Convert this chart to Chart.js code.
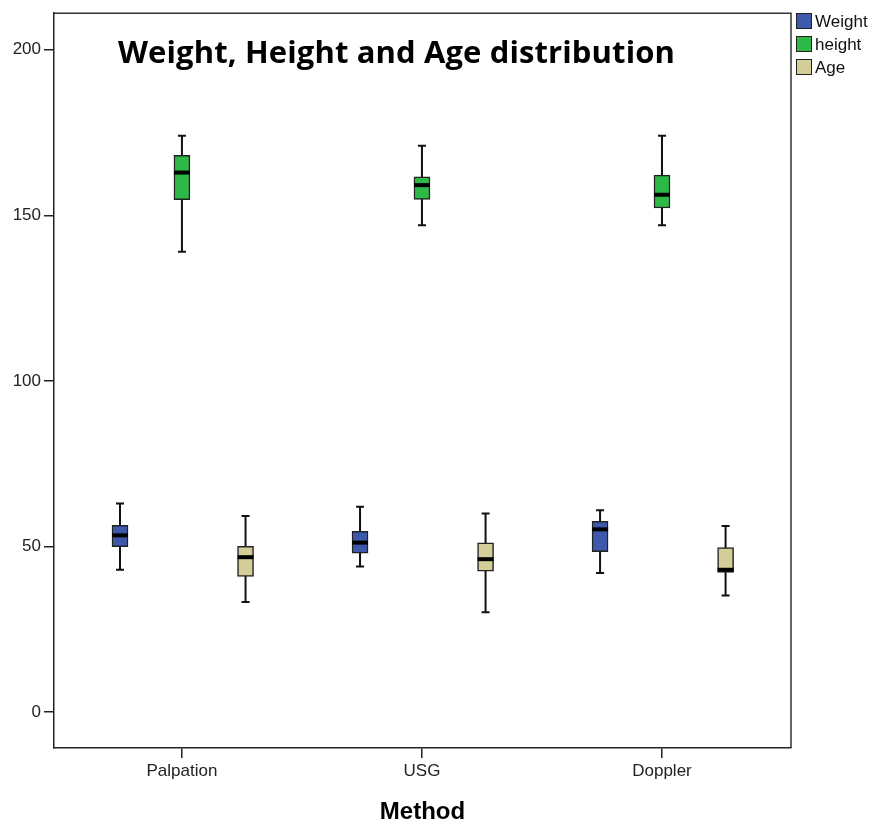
<!DOCTYPE html>
<html>
<head>
<meta charset="utf-8">
<title>Weight, Height and Age distribution</title>
<script src="https://cdn.jsdelivr.net/npm/chart.js@4"></script>
<style>
  html, body { margin: 0; padding: 0; background: #ffffff; }
  #wrap { width: 875px; height: 824px; }
</style>
</head>
<body>
<div id="wrap"><canvas id="boxChart" width="875" height="824"></canvas></div>
<script>
// Categories on the x axis and the y tick values
const methods = ['Palpation', 'USG', 'Doppler'];
const yTicks = [0, 50, 100, 150, 200];

// Five-number summaries per method: [min, q1, median, q3, max]
const weightBoxes = [
    [43, 50, 53.4, 56.4, 63],
    [44, 48, 51.2, 54.6, 62],
    [42, 48.5, 55.2, 57.6, 61]
];
const heightBoxes = [
    [139, 154.7, 162.9, 168.1, 174],
    [147, 154.8, 159.1, 161.6, 171],
    [147, 152.2, 156.2, 162.1, 174]
];
const ageBoxes = [
    [33.3, 41, 46.8, 50.1, 59.2],
    [30.2, 42.6, 46.2, 51.1, 60],
    [35.2, 42.2, 43, 49.7, 56.2]
];

const seriesNames = ['Weight', 'height', 'Age'];
const seriesColors = ['#3E58AC', '#2EB848', '#D3CE97'];
const seriesBoxes = [weightBoxes, heightBoxes, ageBoxes];
const groupOffsets = [-0.258, 0, 0.265];
const chartTitle = 'Weight, Height and Age distribution';

// Whiskers go behind the boxes, medians on top of them
const boxPlotPlugin = {
    id: 'boxPlot',
    beforeDatasetsDraw(chart) {
        const ctx = chart.ctx;
        const y = chart.scales.y;
        ctx.save();
        ctx.strokeStyle = '#111';
        ctx.lineWidth = 2;
        chart.data.datasets.forEach((ds, di) => {
            const meta = chart.getDatasetMeta(di);
            meta.data.forEach((bar, i) => {
                const b = seriesBoxes[di][i];
                const yMin = y.getPixelForValue(b[0]);
                const yMax = y.getPixelForValue(b[4]);
                ctx.beginPath();
                ctx.moveTo(bar.x, yMin);
                ctx.lineTo(bar.x, yMax);
                ctx.moveTo(bar.x - 4, yMin);
                ctx.lineTo(bar.x + 4, yMin);
                ctx.moveTo(bar.x - 4, yMax);
                ctx.lineTo(bar.x + 4, yMax);
                ctx.stroke();
            });
        });
        ctx.restore();
    },
    afterDatasetsDraw(chart) {
        const ctx = chart.ctx;
        const y = chart.scales.y;
        ctx.save();
        ctx.strokeStyle = '#000';
        ctx.lineWidth = 4;
        chart.data.datasets.forEach((ds, di) => {
            const meta = chart.getDatasetMeta(di);
            meta.data.forEach((bar, i) => {
                const med = y.getPixelForValue(seriesBoxes[di][i][2]);
                const half = bar.width / 2;
                ctx.beginPath();
                ctx.moveTo(bar.x - half, med);
                ctx.lineTo(bar.x + half, med);
                ctx.stroke();
            });
        });
        ctx.restore();
    }
};

// Frame, title inside the plot and the legend on the right
const decorPlugin = {
    id: 'decor',
    afterDraw(chart) {
        const ctx = chart.ctx;
        const a = chart.chartArea;
        ctx.save();
        ctx.strokeStyle = '#333';
        ctx.lineWidth = 1.5;
        ctx.beginPath();
        ctx.moveTo(a.left, a.top);
        ctx.lineTo(a.right, a.top);
        ctx.lineTo(a.right, a.bottom);
        ctx.stroke();

        // title is stretched to span x 118..675
        ctx.fillStyle = '#000';
        ctx.font = 'bold 31px "Open Sans", Lato, sans-serif';
        ctx.textBaseline = 'alphabetic';
        ctx.textAlign = 'left';
        const w = ctx.measureText(chartTitle).width;
        ctx.letterSpacing = ((557 - w) / (chartTitle.length - 1)).toFixed(2) + 'px';
        ctx.fillText(chartTitle, 118, 63);
        ctx.letterSpacing = '0px';

        ctx.font = '17px "Liberation Sans", Arial, sans-serif';
        ctx.textBaseline = 'middle';
        seriesNames.forEach((name, i) => {
            const top = 13 + i * 23;
            ctx.fillStyle = seriesColors[i];
            ctx.fillRect(796, top, 16, 16);
            ctx.strokeStyle = '#222';
            ctx.lineWidth = 1;
            ctx.strokeRect(796.5, top + 0.5, 15, 15);
            ctx.fillStyle = '#111';
            ctx.fillText(name, 815, top + 9);
        });
        ctx.restore();
    }
};

const datasets = seriesNames.map((name, si) => ({
    label: name,
    data: seriesBoxes[si].map((b, i) => ({ x: i + groupOffsets[si], y: [b[1], b[3]] })),
    backgroundColor: seriesColors[si],
    borderColor: '#222',
    borderWidth: 1.5,
    borderSkipped: false,
    barThickness: 16,
    grouped: false
}));

new Chart(document.getElementById('boxChart'), {
    type: 'bar',
    data: { datasets: datasets },
    plugins: [boxPlotPlugin, decorPlugin],
    options: {
        responsive: false,
        animation: false,
        layout: { padding: { top: 10, right: 84, left: 0, bottom: 0 } },
        plugins: {
            legend: { display: false },
            tooltip: { enabled: false }
        },
        scales: {
            x: {
                type: 'linear',
                min: -0.533,
                max: 2.5375,
                offset: false,
                afterBuildTicks: (scale) => { scale.ticks = methods.map((m, i) => ({ value: i })); },
                afterFit: (scale) => { scale.height = 76; },
                ticks: {
                    callback: (value) => methods[value],
                    color: '#222',
                    font: { family: '"Liberation Sans", Arial, sans-serif', size: 17 },
                    padding: 3,
                    maxRotation: 0
                },
                grid: { offset: false, drawOnChartArea: false, drawTicks: true, tickLength: 10, color: '#222', lineWidth: 1.5 },
                border: { display: true, color: '#222', width: 1.5 },
                title: {
                    display: true,
                    text: 'Method',
                    color: '#000',
                    font: { family: '"Liberation Sans", Arial, sans-serif', size: 24, weight: 'bold', lineHeight: 1 },
                    padding: { top: 0, bottom: 0 }
                }
            },
            y: {
                min: -10.8,
                max: 211,
                afterBuildTicks: (scale) => { scale.ticks = yTicks.map(v => ({ value: v })); },
                afterFit: (scale) => { scale.width = 54; },
                ticks: {
                    color: '#222',
                    font: { family: '"Liberation Sans", Arial, sans-serif', size: 17 },
                    padding: 3
                },
                grid: { drawOnChartArea: false, drawTicks: true, tickLength: 10, color: '#222', lineWidth: 1.5 },
                border: { display: true, color: '#222', width: 1.5 }
            }
        }
    }
});
</script>
</body>
</html>
